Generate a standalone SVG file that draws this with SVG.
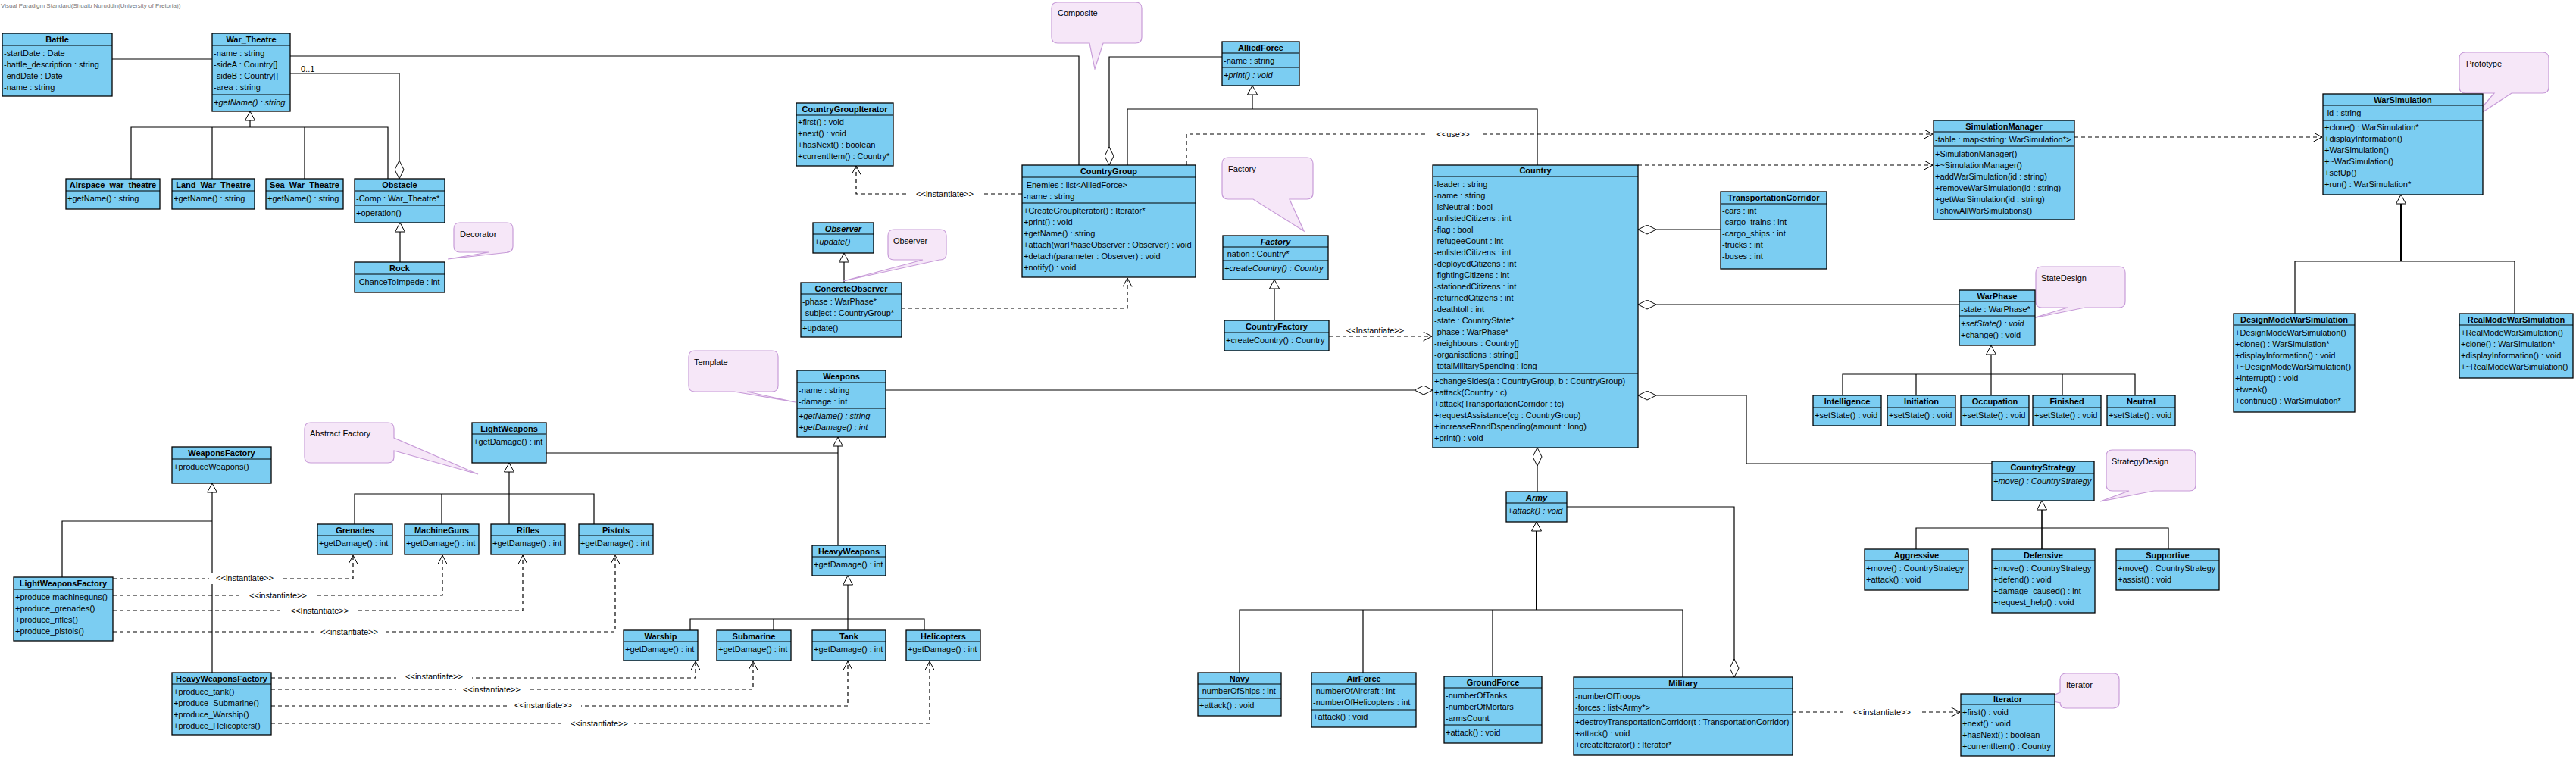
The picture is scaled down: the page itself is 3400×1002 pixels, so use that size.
<svg xmlns="http://www.w3.org/2000/svg" width="3400" height="1002" viewBox="0 0 3400 1002">
<style>
.box{fill:#7BCDF2;stroke:#000;stroke-width:1.3}
.sep{stroke:#000;stroke-width:1}
text{font-family:"Liberation Sans",Arial,sans-serif;font-size:11px;fill:#000}
.h{font-weight:bold;text-anchor:middle}
.it{font-style:italic}
.ln{fill:none;stroke:#000;stroke-width:1.2}
.dl{fill:none;stroke:#000;stroke-width:1.2;stroke-dasharray:5,4}
.gen{marker-end:url(#tri)}
.agg{marker-end:url(#dia)}
.dep{marker-end:url(#arr)}
.bg{fill:#fff;stroke:none}
.lbl{text-anchor:middle}
.note{fill:#F6E7F8;stroke:#C79BD8;stroke-width:1.2}
.hdr{font-size:8px;fill:#777}
</style>
<defs>
<marker id="tri" viewBox="0 0 13 14" refX="12.5" refY="7" markerWidth="13" markerHeight="14" orient="auto" markerUnits="userSpaceOnUse"><path d="M0.5,0.5 L12.5,7 L0.5,13.5 Z" fill="#fff" stroke="#000" stroke-width="1"/></marker>
<marker id="dia" viewBox="0 0 25 13" refX="24.5" refY="6.5" markerWidth="25" markerHeight="13" orient="auto" markerUnits="userSpaceOnUse"><path d="M0.5,6.5 L12.5,0.5 L24.5,6.5 L12.5,12.5 Z" fill="#fff" stroke="#000" stroke-width="1"/></marker>
<marker id="arr" viewBox="0 0 13 13" refX="12" refY="6.5" markerWidth="13" markerHeight="13" orient="auto" markerUnits="userSpaceOnUse"><path d="M0.5,0.5 L12,6.5 L0.5,12.5" fill="none" stroke="#000" stroke-width="1"/></marker>
</defs>
<rect width="3400" height="1002" fill="#fff"/>
<text class="hdr" x="1" y="10">Visual Paradigm Standard(Shuaib Nuruddin(University of Pretoria))</text>

<g id="connectors">
<path class="ln" d="M148,78 H280"/>
<path class="ln" d="M383,74 H1424 V218"/>
<path class="ln agg" d="M383,97 H527 V236"/>
<text x="397" y="95">0..1</text>
<path class="ln agg" d="M1613,75 H1464 V218"/>
<path class="ln agg" d="M2271,303 H2162"/>
<path class="ln agg" d="M2586,402 H2162"/>
<path class="ln agg" d="M2629,612 H2305 V522 H2162"/>
<path class="ln agg" d="M1169,515 H1891"/>
<path class="ln agg" d="M2029,649 V591"/>
<path class="ln agg" d="M2068,669 H2289 V894"/>
<path class="ln" d="M173,236 V168 H512 V236 M280,236 V168 M402,236 V168"/>
<path class="ln gen" d="M330,168 V147"/>
<path class="ln gen" d="M528,346 V294"/>
<path class="ln" d="M1488,218 V144 H2029 V218"/>
<path class="ln gen" d="M1653,144 V113"/>
<path class="ln gen" d="M1114,373 V334"/>
<path class="ln gen" d="M1682,423 V369"/>
<path class="ln" d="M3029,414 V345 H3319 V414"/>
<path class="ln gen" d="M3169,345 V257" style="stroke-width:2"/>
<path class="ln" d="M2432,522 V494 H2818 V522 M2529,522 V494 M2722,522 V494"/>
<path class="ln gen" d="M2628,522 V456"/>
<path class="ln" d="M2529,725 V697 H2862 V725"/>
<path class="ln gen" d="M2695,725 V661" style="stroke-width:1.6"/>
<path class="ln" d="M1636,888 V805 H2221 V894 M1799,888 V805 M1970,893 V805"/>
<path class="ln gen" d="M2028,805 V689" style="stroke-width:2"/>
<path class="ln" d="M721,598 H1106"/>
<path class="ln gen" d="M1106,720 V577"/>
<path class="ln" d="M468,692 V652 H784 V692 M583,692 V652"/>
<path class="ln gen" d="M672,692 V611"/>
<path class="ln" d="M911,832 V817 H1220 V832 M1021,832 V817"/>
<path class="ln gen" d="M1119,832 V760"/>
<path class="ln" d="M82,762 V688 H280"/>
<path class="ln gen" d="M280,888 V638"/>
<path class="dl dep" d="M1349,256 H1130 V219"/>
<rect class="bg" x="1197" y="248" width="100" height="16"/>
<text class="lbl" x="1247" y="260">&lt;&lt;instantiate&gt;&gt;</text>
<path class="dl dep" d="M1566,218 V177 H2551"/>
<rect class="bg" x="1882" y="169" width="73" height="16"/>
<text class="lbl" x="1918" y="181">&lt;&lt;use&gt;&gt;</text>
<path class="dl dep" d="M2162,218 H2551"/>
<path class="dl dep" d="M2738,181 H3065"/>
<path class="dl dep" d="M1190,407 H1488 V367"/>
<path class="dl dep" d="M1754,444 H1890"/>
<text class="lbl" x="1815" y="440">&lt;&lt;Instantiate&gt;&gt;</text>
<path class="dl dep" d="M2366,940 H2587"/>
<rect class="bg" x="2432" y="932" width="103" height="16"/>
<text class="lbl" x="2484" y="944">&lt;&lt;instantiate&gt;&gt;</text>
<path class="dl dep" d="M149,764 H466 V733"/>
<rect class="bg" x="276" y="756" width="95" height="15"/>
<text class="lbl" x="323" y="767">&lt;&lt;instantiate&gt;&gt;</text>
<path class="dl dep" d="M149,786 H584 V733"/>
<rect class="bg" x="320" y="778" width="95" height="15"/>
<text class="lbl" x="367" y="790">&lt;&lt;instantiate&gt;&gt;</text>
<path class="dl dep" d="M149,806 H690 V733"/>
<rect class="bg" x="374" y="798" width="97" height="15"/>
<text class="lbl" x="422" y="810">&lt;&lt;Instantiate&gt;&gt;</text>
<path class="dl dep" d="M149,834 H812 V733"/>
<rect class="bg" x="415" y="826" width="92" height="15"/>
<text class="lbl" x="461" y="838">&lt;&lt;instantiate&gt;&gt;</text>
<path class="dl dep" d="M358,895 H918 V873"/>
<rect class="bg" x="523" y="886" width="100" height="15"/>
<text class="lbl" x="573" y="897">&lt;&lt;instantiate&gt;&gt;</text>
<path class="dl dep" d="M358,910 H994 V873"/>
<rect class="bg" x="602" y="902" width="95" height="15"/>
<text class="lbl" x="649" y="914">&lt;&lt;instantiate&gt;&gt;</text>
<path class="dl dep" d="M358,932 H1119 V873"/>
<rect class="bg" x="669" y="924" width="98" height="15"/>
<text class="lbl" x="717" y="935">&lt;&lt;instantiate&gt;&gt;</text>
<path class="dl dep" d="M358,955 H1227 V873"/>
<rect class="bg" x="745" y="947" width="92" height="15"/>
<text class="lbl" x="791" y="959">&lt;&lt;instantiate&gt;&gt;</text>
</g>

<g id="note-decorator"><path class="note" d="M607,294 H669 Q677,294 677,302 V325 Q677,333 669,333 H672 L591,342 L645,333 H607 Q599,333 599,325 V302 Q599,294 607,294 Z"/><text x="607" y="313">Decorator</text></g>
<g id="note-composite"><path class="note" d="M1396,3 H1499 Q1507,3 1507,11 V49 Q1507,57 1499,57 H1456 L1445,91 L1438,57 H1396 Q1388,57 1388,49 V11 Q1388,3 1396,3 Z"/><text x="1396" y="21">Composite</text></g>
<g id="note-factory"><path class="note" d="M1621,208 H1725 Q1733,208 1733,216 V255 Q1733,263 1725,263 H1702 L1721,305 L1654,263 H1621 Q1613,263 1613,255 V216 Q1613,208 1621,208 Z"/><text x="1621" y="227">Factory</text></g>
<g id="note-observer"><path class="note" d="M1180,303 H1241 Q1249,303 1249,311 V335 Q1249,343 1241,343 H1240 L1113,371 L1218,343 H1180 Q1172,343 1172,335 V311 Q1172,303 1180,303 Z"/><text x="1179" y="322">Observer</text></g>
<g id="note-template"><path class="note" d="M917,463 H1019 Q1027,463 1027,471 V509 Q1027,517 1019,517 H986 L1050,531 L969,517 H917 Q909,517 909,509 V471 Q909,463 917,463 Z"/><text x="916" y="482">Template</text></g>
<g id="note-abstract-factory"><path class="note" d="M410,558 H512 Q520,558 520,566 V578 L631,626 L520,595 V603 Q520,611 512,611 H410 Q402,611 402,603 V566 Q402,558 410,558 Z"/><text x="409" y="576">Abstract Factory</text></g>
<g id="note-prototype"><path class="note" d="M3254,69 H3356 Q3364,69 3364,77 V115 Q3364,123 3356,123 H3315 L3263,157 L3292,123 H3254 Q3246,123 3246,115 V77 Q3246,69 3254,69 Z"/><text x="3255" y="88">Prototype</text></g>
<g id="note-statedesign"><path class="note" d="M2695,352 H2797 Q2805,352 2805,360 V398 Q2805,406 2797,406 H2752 L2683,420 L2729,406 H2695 Q2687,406 2687,398 V360 Q2687,352 2695,352 Z"/><text x="2694" y="371">StateDesign</text></g>
<g id="note-strategydesign"><path class="note" d="M2788,594 H2890 Q2898,594 2898,602 V640 Q2898,648 2890,648 H2843 L2772,662 L2810,648 H2788 Q2780,648 2780,640 V602 Q2780,594 2788,594 Z"/><text x="2787" y="613">StrategyDesign</text></g>
<g id="note-iterator"><path class="note" d="M2727,889 H2789 Q2797,889 2797,897 V927 Q2797,935 2789,935 H2727 Q2719,935 2719,927 V928 L2699,923 L2719,914 V897 Q2719,889 2727,889 Z"/><text x="2727" y="908">Iterator</text></g>

<g id="Battle"><rect class="box" x="3" y="44" width="145" height="83"/><line class="sep" x1="3" y1="60" x2="148" y2="60"/>
<text class="h" x="75.5" y="56">Battle</text>
<text x="5" y="74">-startDate : Date</text><text x="5" y="89">-battle_description : string</text><text x="5" y="104">-endDate : Date</text><text x="5" y="119">-name : string</text></g>

<g id="War_Theatre"><rect class="box" x="280" y="44" width="103" height="103"/><line class="sep" x1="280" y1="60" x2="383" y2="60"/><line class="sep" x1="280" y1="125" x2="383" y2="125"/>
<text class="h" x="331.5" y="56">War_Theatre</text>
<text x="282" y="74">-name : string</text><text x="282" y="89">-sideA : Country[]</text><text x="282" y="104">-sideB : Country[]</text><text x="282" y="119">-area : string</text>
<text class="it" x="282" y="139">+getName() : string</text></g>

<g id="Airspace_war_theatre"><rect class="box" x="87" y="236" width="124" height="40"/><line class="sep" x1="87" y1="252" x2="211" y2="252"/>
<text class="h" x="149" y="248">Airspace_war_theatre</text><text x="89" y="266">+getName() : string</text></g>
<g id="Land_War_Theatre"><rect class="box" x="227" y="236" width="109" height="40"/><line class="sep" x1="227" y1="252" x2="336" y2="252"/>
<text class="h" x="281.5" y="248">Land_War_Theatre</text><text x="229" y="266">+getName() : string</text></g>
<g id="Sea_War_Theatre"><rect class="box" x="351" y="236" width="102" height="40"/><line class="sep" x1="351" y1="252" x2="453" y2="252"/>
<text class="h" x="402" y="248">Sea_War_Theatre</text><text x="353" y="266">+getName() : string</text></g>
<g id="Obstacle"><rect class="box" x="468" y="236" width="119" height="58"/><line class="sep" x1="468" y1="252" x2="587" y2="252"/><line class="sep" x1="468" y1="271" x2="587" y2="271"/>
<text class="h" x="527.5" y="248">Obstacle</text><text x="470" y="266">-Comp : War_Theatre*</text><text x="470" y="285">+operation()</text></g>
<g id="Rock"><rect class="box" x="468" y="346" width="119" height="40"/><line class="sep" x1="468" y1="362" x2="587" y2="362"/>
<text class="h" x="527.5" y="358">Rock</text><text x="470" y="376">-ChanceToImpede : int</text></g>

<g id="CountryGroupIterator"><rect class="box" x="1051" y="136" width="128" height="83"/><line class="sep" x1="1051" y1="152" x2="1179" y2="152"/>
<text class="h" x="1115" y="148">CountryGroupIterator</text>
<text x="1053" y="165">+first() : void</text><text x="1053" y="180">+next() : void</text><text x="1053" y="195">+hasNext() : boolean</text><text x="1053" y="210">+currentItem() : Country*</text></g>

<g id="CountryGroup"><rect class="box" x="1349" y="218" width="229" height="148"/><line class="sep" x1="1349" y1="234" x2="1578" y2="234"/><line class="sep" x1="1349" y1="268" x2="1578" y2="268"/>
<text class="h" x="1463.5" y="230">CountryGroup</text>
<text x="1351" y="248">-Enemies : list&lt;AlliedForce&gt;</text><text x="1351" y="263">-name : string</text>
<text x="1351" y="282">+CreateGroupIterator() : Iterator*</text><text x="1351" y="297">+print() : void</text><text x="1351" y="312">+getName() : string</text><text x="1351" y="327">+attach(warPhaseObserver : Observer) : void</text><text x="1351" y="342">+detach(parameter : Observer) : void</text><text x="1351" y="357">+notify() : void</text></g>

<g id="AlliedForce"><rect class="box" x="1613" y="55" width="102" height="58"/><line class="sep" x1="1613" y1="70" x2="1715" y2="70"/><line class="sep" x1="1613" y1="89" x2="1715" y2="89"/>
<text class="h" x="1664" y="67">AlliedForce</text><text x="1615" y="84">-name : string</text><text class="it" x="1615" y="103">+print() : void</text></g>

<g id="Observer"><rect class="box" x="1073" y="294" width="80" height="40"/><line class="sep" x1="1073" y1="309" x2="1153" y2="309"/>
<text class="h it" x="1113" y="306">Observer</text><text class="it" x="1075" y="323">+update()</text></g>
<g id="ConcreteObserver"><rect class="box" x="1057" y="373" width="133" height="72"/><line class="sep" x1="1057" y1="388" x2="1190" y2="388"/><line class="sep" x1="1057" y1="423" x2="1190" y2="423"/>
<text class="h" x="1123.5" y="385">ConcreteObserver</text><text x="1059" y="402">-phase : WarPhase*</text><text x="1059" y="417">-subject : CountryGroup*</text><text x="1059" y="437">+update()</text></g>

<g id="Factory"><rect class="box" x="1614" y="311" width="139" height="58"/><line class="sep" x1="1614" y1="326" x2="1753" y2="326"/><line class="sep" x1="1614" y1="344" x2="1753" y2="344"/>
<text class="h it" x="1683.5" y="323">Factory</text><text x="1616" y="339">-nation : Country*</text><text class="it" x="1616" y="358">+createCountry() : Country</text></g>
<g id="CountryFactory"><rect class="box" x="1616" y="423" width="138" height="40"/><line class="sep" x1="1616" y1="439" x2="1754" y2="439"/>
<text class="h" x="1685" y="435">CountryFactory</text><text x="1618" y="453">+createCountry() : Country</text></g>

<g id="Country"><rect class="box" x="1891" y="218" width="271" height="373"/><line class="sep" x1="1891" y1="233" x2="2162" y2="233"/><line class="sep" x1="1891" y1="493" x2="2162" y2="493"/>
<text class="h" x="2026.5" y="229">Country</text>
<text x="1893" y="247">-leader : string</text><text x="1893" y="262">-name : string</text><text x="1893" y="277">-isNeutral : bool</text><text x="1893" y="292">-unlistedCitizens : int</text><text x="1893" y="307">-flag : bool</text><text x="1893" y="322">-refugeeCount : int</text><text x="1893" y="337">-enlistedCitizens : int</text><text x="1893" y="352">-deployedCitizens : int</text><text x="1893" y="367">-fightingCitizens : int</text><text x="1893" y="382">-stationedCitizens : int</text><text x="1893" y="397">-returnedCitizens : int</text><text x="1893" y="412">-deathtoll : int</text><text x="1893" y="427">-state : CountryState*</text><text x="1893" y="442">-phase : WarPhase*</text><text x="1893" y="457">-neighbours : Country[]</text><text x="1893" y="472">-organisations : string[]</text><text x="1893" y="487">-totalMilitarySpending : long</text>
<text x="1893" y="507">+changeSides(a : CountryGroup, b : CountryGroup)</text><text x="1893" y="522">+attack(Country : c)</text><text x="1893" y="537">+attack(TransportationCorridor : tc)</text><text x="1893" y="552">+requestAssistance(cg : CountryGroup)</text><text x="1893" y="567">+increaseRandDspending(amount : long)</text><text x="1893" y="582">+print() : void</text></g>

<g id="TransportationCorridor"><rect class="box" x="2271" y="253" width="140" height="102"/><line class="sep" x1="2271" y1="269" x2="2411" y2="269"/>
<text class="h" x="2341" y="265">TransportationCorridor</text>
<text x="2273" y="282">-cars : int</text><text x="2273" y="297">-cargo_trains : int</text><text x="2273" y="312">-cargo_ships : int</text><text x="2273" y="327">-trucks : int</text><text x="2273" y="342">-buses : int</text></g>

<g id="SimulationManager"><rect class="box" x="2552" y="159" width="186" height="131"/><line class="sep" x1="2552" y1="174" x2="2738" y2="174"/><line class="sep" x1="2552" y1="193" x2="2738" y2="193"/>
<text class="h" x="2645" y="171">SimulationManager</text><text x="2554" y="188">-table : map&lt;string: WarSimulation*&gt;</text>
<text x="2554" y="207">+SimulationManager()</text><text x="2554" y="222">+~SimulationManager()</text><text x="2554" y="237">+addWarSimulation(id : string)</text><text x="2554" y="252">+removeWarSimulation(id : string)</text><text x="2554" y="267">+getWarSimulation(id : string)</text><text x="2554" y="282">+showAllWarSimulations()</text></g>

<g id="WarSimulation"><rect class="box" x="3066" y="124" width="211" height="133"/><line class="sep" x1="3066" y1="139" x2="3277" y2="139"/><line class="sep" x1="3066" y1="159" x2="3277" y2="159"/>
<text class="h" x="3171.5" y="136">WarSimulation</text><text x="3068" y="153">-id : string</text>
<text x="3068" y="172">+clone() : WarSimulation*</text><text x="3068" y="187">+displayInformation()</text><text x="3068" y="202">+WarSimulation()</text><text x="3068" y="217">+~WarSimulation()</text><text x="3068" y="232">+setUp()</text><text x="3068" y="247">+run() : WarSimulation*</text></g>

<g id="DesignModeWarSimulation"><rect class="box" x="2948" y="414" width="160" height="130"/><line class="sep" x1="2948" y1="429" x2="3108" y2="429"/>
<text class="h" x="3028" y="426">DesignModeWarSimulation</text>
<text x="2950" y="443">+DesignModeWarSimulation()</text><text x="2950" y="458">+clone() : WarSimulation*</text><text x="2950" y="473">+displayInformation() : void</text><text x="2950" y="488">+~DesignModeWarSimulation()</text><text x="2950" y="503">+interrupt() : void</text><text x="2950" y="518">+tweak()</text><text x="2950" y="533">+continue() : WarSimulation*</text></g>
<g id="RealModeWarSimulation"><rect class="box" x="3246" y="414" width="150" height="85"/><line class="sep" x1="3246" y1="429" x2="3396" y2="429"/>
<text class="h" x="3321" y="426">RealModeWarSimulation</text>
<text x="3248" y="443">+RealModeWarSimulation()</text><text x="3248" y="458">+clone() : WarSimulation*</text><text x="3248" y="473">+displayInformation() : void</text><text x="3248" y="488">+~RealModeWarSimulation()</text></g>

<g id="WarPhase"><rect class="box" x="2586" y="383" width="100" height="73"/><line class="sep" x1="2586" y1="398" x2="2686" y2="398"/><line class="sep" x1="2586" y1="417" x2="2686" y2="417"/>
<text class="h" x="2636" y="395">WarPhase</text><text x="2588" y="412">-state : WarPhase*</text><text class="it" x="2588" y="431">+setState() : void</text><text x="2588" y="446">+change() : void</text></g>
<g id="Intelligence"><rect class="box" x="2393" y="522" width="90" height="40"/><line class="sep" x1="2393" y1="538" x2="2483" y2="538"/><text class="h" x="2438" y="534">Intelligence</text><text x="2395" y="552">+setState() : void</text></g>
<g id="Initiation"><rect class="box" x="2491" y="522" width="90" height="40"/><line class="sep" x1="2491" y1="538" x2="2581" y2="538"/><text class="h" x="2536" y="534">Initiation</text><text x="2493" y="552">+setState() : void</text></g>
<g id="Occupation"><rect class="box" x="2588" y="522" width="90" height="40"/><line class="sep" x1="2588" y1="538" x2="2678" y2="538"/><text class="h" x="2633" y="534">Occupation</text><text x="2590" y="552">+setState() : void</text></g>
<g id="Finished"><rect class="box" x="2683" y="522" width="90" height="40"/><line class="sep" x1="2683" y1="538" x2="2773" y2="538"/><text class="h" x="2728" y="534">Finished</text><text x="2685" y="552">+setState() : void</text></g>
<g id="Neutral"><rect class="box" x="2781" y="522" width="90" height="40"/><line class="sep" x1="2781" y1="538" x2="2871" y2="538"/><text class="h" x="2826" y="534">Neutral</text><text x="2783" y="552">+setState() : void</text></g>

<g id="CountryStrategy"><rect class="box" x="2629" y="609" width="135" height="52"/><line class="sep" x1="2629" y1="625" x2="2764" y2="625"/>
<text class="h" x="2696.5" y="621">CountryStrategy</text><text class="it" x="2631" y="639">+move() : CountryStrategy</text></g>
<g id="Aggressive"><rect class="box" x="2461" y="725" width="137" height="54"/><line class="sep" x1="2461" y1="740" x2="2598" y2="740"/>
<text class="h" x="2529.5" y="737">Aggressive</text><text x="2463" y="754">+move() : CountryStrategy</text><text x="2463" y="769">+attack() : void</text></g>
<g id="Defensive"><rect class="box" x="2629" y="725" width="136" height="84"/><line class="sep" x1="2629" y1="740" x2="2765" y2="740"/>
<text class="h" x="2697" y="737">Defensive</text><text x="2631" y="754">+move() : CountryStrategy</text><text x="2631" y="769">+defend() : void</text><text x="2631" y="784">+damage_caused() : int</text><text x="2631" y="799">+request_help() : void</text></g>
<g id="Supportive"><rect class="box" x="2793" y="725" width="136" height="54"/><line class="sep" x1="2793" y1="740" x2="2929" y2="740"/>
<text class="h" x="2861" y="737">Supportive</text><text x="2795" y="754">+move() : CountryStrategy</text><text x="2795" y="769">+assist() : void</text></g>

<g id="Iterator"><rect class="box" x="2588" y="916" width="124" height="82"/><line class="sep" x1="2588" y1="930" x2="2712" y2="930"/>
<text class="h" x="2650" y="927">Iterator</text><text x="2590" y="944">+first() : void</text><text x="2590" y="959">+next() : void</text><text x="2590" y="974">+hasNext() : boolean</text><text x="2590" y="989">+currentItem() : Country</text></g>

<g id="Army"><rect class="box" x="1988" y="649" width="80" height="40"/><line class="sep" x1="1988" y1="664" x2="2068" y2="664"/>
<text class="h it" x="2028" y="661">Army</text><text class="it" x="1990" y="678">+attack() : void</text></g>
<g id="Navy"><rect class="box" x="1581" y="888" width="110" height="57"/><line class="sep" x1="1581" y1="903" x2="1691" y2="903"/><line class="sep" x1="1581" y1="922" x2="1691" y2="922"/>
<text class="h" x="1636" y="900">Navy</text><text x="1583" y="916">-numberOfShips : int</text><text x="1583" y="935">+attack() : void</text></g>
<g id="AirForce"><rect class="box" x="1731" y="888" width="138" height="72"/><line class="sep" x1="1731" y1="903" x2="1869" y2="903"/><line class="sep" x1="1731" y1="937" x2="1869" y2="937"/>
<text class="h" x="1800" y="900">AirForce</text><text x="1733" y="916">-numberOfAircraft : int</text><text x="1733" y="931">-numberOfHelicopters : int</text><text x="1733" y="950">+attack() : void</text></g>
<g id="GroundForce"><rect class="box" x="1906" y="893" width="129" height="88"/><line class="sep" x1="1906" y1="908" x2="2035" y2="908"/><line class="sep" x1="1906" y1="957" x2="2035" y2="957"/>
<text class="h" x="1970.5" y="905">GroundForce</text><text x="1908" y="922">-numberOfTanks</text><text x="1908" y="937">-numberOfMortars</text><text x="1908" y="952">-armsCount</text><text x="1908" y="971">+attack() : void</text></g>
<g id="Military"><rect class="box" x="2077" y="894" width="289" height="103"/><line class="sep" x1="2077" y1="909" x2="2366" y2="909"/><line class="sep" x1="2077" y1="943" x2="2366" y2="943"/>
<text class="h" x="2221.5" y="906">Military</text><text x="2079" y="923">-numberOfTroops</text><text x="2079" y="938">-forces : list&lt;Army*&gt;</text>
<text x="2079" y="957">+destroyTransportationCorridor(t : TransportationCorridor)</text><text x="2079" y="972">+attack() : void</text><text x="2079" y="987">+createIterator() : Iterator*</text></g>

<g id="Weapons"><rect class="box" x="1052" y="489" width="117" height="88"/><line class="sep" x1="1052" y1="505" x2="1169" y2="505"/><line class="sep" x1="1052" y1="539" x2="1169" y2="539"/>
<text class="h" x="1110.5" y="501">Weapons</text><text x="1054" y="519">-name : string</text><text x="1054" y="534">-damage : int</text><text class="it" x="1054" y="553">+getName() : string</text><text class="it" x="1054" y="568">+getDamage() : int</text></g>
<g id="LightWeapons"><rect class="box" x="623" y="558" width="98" height="53"/><line class="sep" x1="623" y1="573" x2="721" y2="573"/>
<text class="h" x="672" y="570">LightWeapons</text><text x="625" y="587">+getDamage() : int</text></g>
<g id="HeavyWeapons"><rect class="box" x="1072" y="720" width="97" height="40"/><line class="sep" x1="1072" y1="735" x2="1169" y2="735"/>
<text class="h" x="1120.5" y="732">HeavyWeapons</text><text x="1074" y="749">+getDamage() : int</text></g>
<g id="Grenades"><rect class="box" x="419" y="692" width="99" height="40"/><line class="sep" x1="419" y1="707" x2="518" y2="707"/><text class="h" x="468.5" y="704">Grenades</text><text x="421" y="721">+getDamage() : int</text></g>
<g id="MachineGuns"><rect class="box" x="534" y="692" width="98" height="40"/><line class="sep" x1="534" y1="707" x2="632" y2="707"/><text class="h" x="583" y="704">MachineGuns</text><text x="536" y="721">+getDamage() : int</text></g>
<g id="Rifles"><rect class="box" x="648" y="692" width="98" height="40"/><line class="sep" x1="648" y1="707" x2="746" y2="707"/><text class="h" x="697" y="704">Rifles</text><text x="650" y="721">+getDamage() : int</text></g>
<g id="Pistols"><rect class="box" x="764" y="692" width="98" height="40"/><line class="sep" x1="764" y1="707" x2="862" y2="707"/><text class="h" x="813" y="704">Pistols</text><text x="766" y="721">+getDamage() : int</text></g>
<g id="Warship"><rect class="box" x="823" y="832" width="98" height="40"/><line class="sep" x1="823" y1="847" x2="921" y2="847"/><text class="h" x="872" y="844">Warship</text><text x="825" y="861">+getDamage() : int</text></g>
<g id="Submarine"><rect class="box" x="946" y="832" width="98" height="40"/><line class="sep" x1="946" y1="847" x2="1044" y2="847"/><text class="h" x="995" y="844">Submarine</text><text x="948" y="861">+getDamage() : int</text></g>
<g id="Tank"><rect class="box" x="1072" y="832" width="97" height="40"/><line class="sep" x1="1072" y1="847" x2="1169" y2="847"/><text class="h" x="1120.5" y="844">Tank</text><text x="1074" y="861">+getDamage() : int</text></g>
<g id="Helicopters"><rect class="box" x="1196" y="832" width="98" height="40"/><line class="sep" x1="1196" y1="847" x2="1294" y2="847"/><text class="h" x="1245" y="844">Helicopters</text><text x="1198" y="861">+getDamage() : int</text></g>

<g id="WeaponsFactory"><rect class="box" x="227" y="590" width="131" height="48"/><line class="sep" x1="227" y1="606" x2="358" y2="606"/>
<text class="h" x="292.5" y="602">WeaponsFactory</text><text x="229" y="620">+produceWeapons()</text></g>
<g id="LightWeaponsFactory"><rect class="box" x="18" y="762" width="131" height="84"/><line class="sep" x1="18" y1="778" x2="149" y2="778"/>
<text class="h" x="83.5" y="774">LightWeaponsFactory</text><text x="20" y="792">+produce machineguns()</text><text x="20" y="807">+produce_grenades()</text><text x="20" y="822">+produce_rifles()</text><text x="20" y="837">+produce_pistols()</text></g>
<g id="HeavyWeaponsFactory"><rect class="box" x="227" y="888" width="131" height="82"/><line class="sep" x1="227" y1="903" x2="358" y2="903"/>
<text class="h" x="292.5" y="900">HeavyWeaponsFactory</text><text x="229" y="917">+produce_tank()</text><text x="229" y="932">+produce_Submarine()</text><text x="229" y="947">+produce_Warship()</text><text x="229" y="962">+produce_Helicopters()</text></g>
</svg>
